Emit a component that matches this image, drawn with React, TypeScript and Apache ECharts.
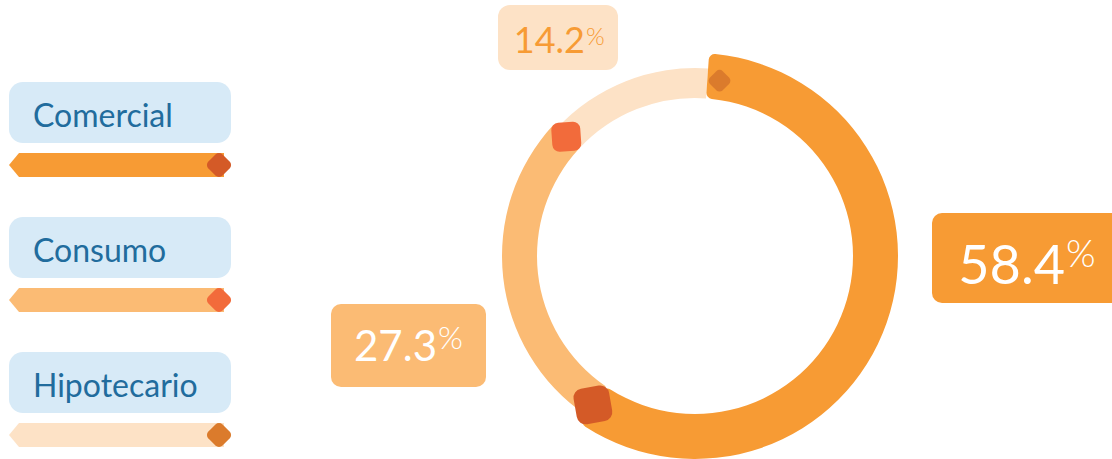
import React, { useEffect, useRef } from "react";
import * as echarts from "echarts";

const categories = ["Comercial", "Consumo", "Hipotecario"];
const values = [58.4, 27.3, 14.2];
const valueLabels = ["58.4", "27.3", "14.2"];
const ringColors = ["#F79B34", "#FBBB74", "#FDE2C6"];
const markerColors = ["#D45A27", "#F26B3B", "#DB7B2C"];
const labelTextColors = ["#FFFFFF", "#FFFFFF", "#F79B34"];

const CENTER: [number, number] = [695, 256];
const INNER = 158;
const OUTER = [203, 193, 188];
const MARKER_SIZE = [36, 29, 18];
const MARKER_ROT = [10, 4, 45];
const MARKER_SHIFT = [0, 0, 1.1];
const START = 86;

export default function App() {
  const ref = useRef<HTMLDivElement>(null);
  useEffect(() => {
    if (!ref.current) return;
    const chart = echarts.init(ref.current, undefined, { renderer: "svg" });
    const total = values.reduce((a, b) => a + b, 0);
    const cum: number[] = [];
    values.reduce((acc, v, i) => {
      cum[i] = acc + v;
      return acc + v;
    }, 0);

    const pies = categories.map((_, i) => ({
      type: "pie",
      center: CENTER,
      radius: [INNER, OUTER[i]],
      startAngle: START,
      clockwise: true,
      silent: true,
      z: 3 - i,
      label: { show: false },
      labelLine: { show: false },
      itemStyle: { borderWidth: 0, borderRadius: i === 0 ? 6 : 0 },
      data: values.map((v, j) => ({
        name: categories[j],
        value: v,
        itemStyle: { color: j === i ? ringColors[i] : "rgba(0,0,0,0)" },
      })),
    }));

    const markers = {
      type: "scatter",
      coordinateSystem: "polar",
      silent: true,
      z: 10,
      itemStyle: { opacity: 1 },
      data: categories.map((c, i) => ({
        name: c,
        value: [(INNER + OUTER[i]) / 2 + (i === 2 ? 4 : 0), (cum[i] + MARKER_SHIFT[i]) % total],
        symbol: "roundRect",
        symbolSize: MARKER_SIZE[i],
        symbolRotate: MARKER_ROT[i],
        itemStyle: { color: markerColors[i], opacity: 1 },
      })),
    };

    const graphics: any[] = [];
    categories.forEach((c, i) => {
      const y0 = 82 + i * 135;
      graphics.push({
        type: "rect",
        shape: { x: 9, y: y0, width: 222, height: 61, r: 14 },
        style: { fill: "#D7EAF7" },
      });
      graphics.push({
        type: "text",
        x: 33,
        y: y0 + 32,
        style: {
          text: c,
          font: "400 32px Lato",
          fill: "#216C9D",
          verticalAlign: "middle",
        },
      });
      graphics.push({
        type: "polygon",
        shape: {
          points: [
            [9, y0 + 83],
            [19, y0 + 71],
            [224, y0 + 71],
            [224, y0 + 95],
            [19, y0 + 95],
          ],
        },
        style: { fill: ringColors[i], lineJoin: "round" },
      });
      graphics.push({
        type: "rect",
        x: 219,
        y: y0 + 83,
        rotation: Math.PI / 4,
        shape: { x: -10, y: -10, width: 20, height: 20, r: 5 },
        style: { fill: markerColors[i] },
      });
    });

    const boxes = [
      { x: 932, y: 213, w: 200, h: 90, r: 10, tx: 1065, ty: 263, fs: 54, pty: 252, pfs: 38 },
      { x: 331, y: 304, w: 155, h: 83, r: 10, tx: 437, ty: 345, fs: 42, pty: 336, pfs: 32 },
      { x: 498, y: 5, w: 120, h: 65, r: 12, tx: 585, ty: 39, fs: 36, pty: 35, pfs: 24 },
    ];
    boxes.forEach((b, i) => {
      graphics.push({
        type: "rect",
        shape: { x: b.x, y: b.y, width: b.w, height: b.h, r: b.r },
        style: { fill: ringColors[i] },
      });
      graphics.push({
        type: "text",
        x: b.tx,
        y: b.ty,
        style: {
          text: valueLabels[i],
          font: `400 ${b.fs}px Lato`,
          fill: labelTextColors[i],
          align: "right",
          verticalAlign: "middle",
        },
      });
      graphics.push({
        type: "text",
        x: b.tx + 1,
        y: b.pty,
        style: {
          text: "%",
          font: `300 ${b.pfs}px Lato`,
          fill: labelTextColors[i],
          align: "left",
          verticalAlign: "middle",
        },
      });
    });

    chart.setOption({
      animation: false,
      backgroundColor: "#FFFFFF",
      polar: { center: CENTER, radius: 200 },
      angleAxis: {
        type: "value",
        min: 0,
        max: total,
        startAngle: START,
        clockwise: true,
        show: false,
      },
      radiusAxis: { type: "value", min: 0, max: 200, show: false },
      series: [...pies, markers],
      graphic: graphics,
    });
    return () => chart.dispose();
  }, []);
  return (
    <div
      ref={ref}
      style={{ position: "fixed", left: 0, top: 0, width: 1112, height: 459 }}
    />
  );
}
